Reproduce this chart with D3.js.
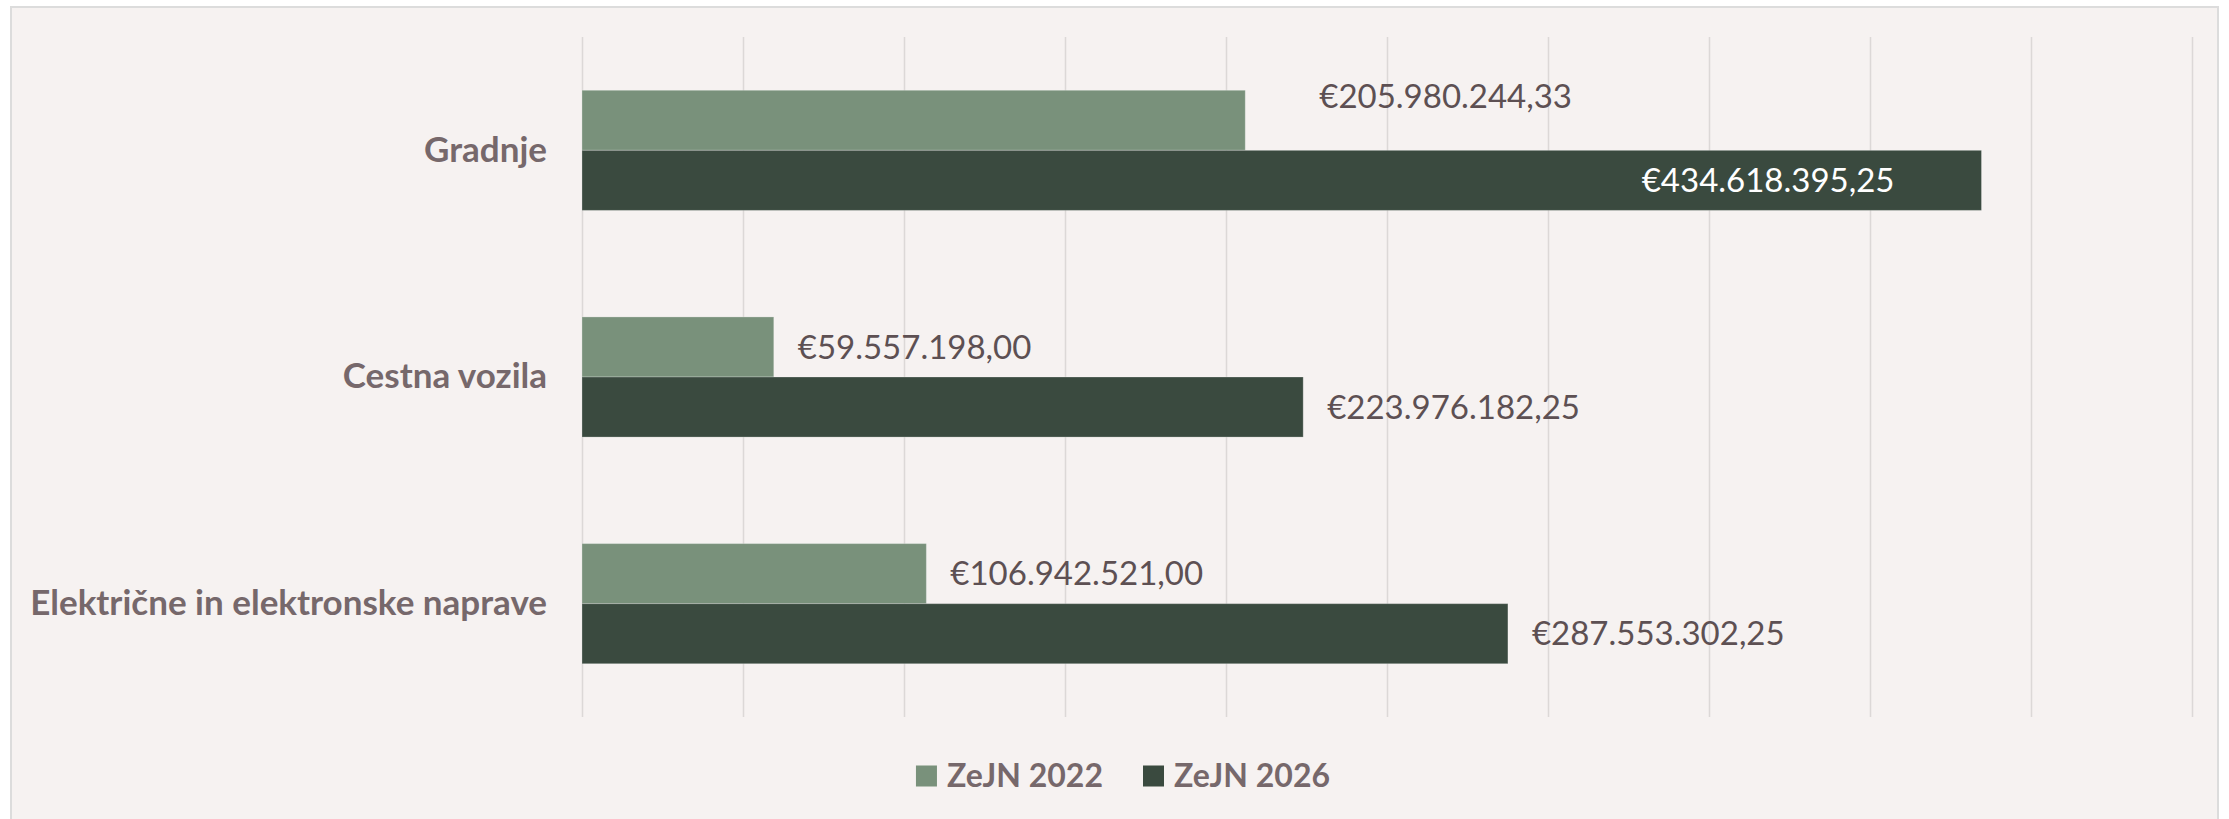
<!DOCTYPE html>
<html>
<head>
<meta charset="utf-8">
<script src="https://cdn.jsdelivr.net/npm/d3@7"></script>
<style>
  body { margin: 0; background: #ffffff; }
  svg { display: block; }
  .grid line { stroke: #dcd8d7; stroke-width: 1.5; }
  .catLabel { font-family: Lato, sans-serif; font-weight: bold; font-size: 35px; fill: #76686b; }
  .valLabel { font-family: Lato, sans-serif; font-size: 33px; fill: #5d5053; }
  .legendText { font-family: Lato, sans-serif; font-weight: bold; font-size: 32px; fill: #76686b; }
</style>
</head>
<body>
<svg id="chart"></svg>
<script>
var categories = ["Gradnje", "Cestna vozila", "Električne in elektronske naprave"];
var series = ["ZeJN 2022", "ZeJN 2026"];
var values2022 = [205980244.33, 59557198.00, 106942521.00];
var values2026 = [434618395.25, 223976182.25, 287553302.25];
var colors = ["#79917b", "#3a4a3f"];

var width = 2229, height = 819;
var plotLeft = 582, plotRight = 2192, plotTop = 37, plotBottom = 717;

var svg = d3.select('#chart').attr("width", width).attr("height", height);

// chart area
svg.append("rect")
   .attr("x", 11).attr("y", 7)
   .attr("width", 2207).attr("height", 830)
   .attr("fill", "#f6f2f1")
   .attr("stroke", "#dcdcdc").attr("stroke-width", 2);

var xScale = d3.scaleLinear().domain([0, 500000000]).range([plotLeft, plotRight]);

var yScale = d3.scaleBand()
               .domain(categories)
               .range([plotTop, plotBottom])
               .paddingInner(0.47)
               .paddingOuter(0.235);

var inner = d3.scaleBand().domain(series).range([0, yScale.bandwidth()]);

var euro = d3.formatLocale({decimal: ",", thousands: ".", grouping: [3], currency: ["€", ""]}).format("$,.2f");

// vertical gridlines
var xAxis = d3.axisBottom(xScale).ticks(10).tickSize(-(plotBottom - plotTop)).tickFormat("");
svg.append("g").attr("class", "grid")
   .attr("transform", "translate(0," + plotBottom + ")")
   .call(xAxis)
   .call(function(g) { g.select(".domain").remove(); });

// category labels
var yAxis = d3.axisLeft(yScale).tickSize(0).tickPadding(35);
svg.append("g")
   .attr("transform", "translate(" + plotLeft + ",0)")
   .call(yAxis)
   .call(function(g) {
     g.select(".domain").remove();
     g.attr("font-family", null).attr("font-size", null);
     g.selectAll("text").attr("class", "catLabel").attr("fill", null);
   });

var rows = [];
categories.forEach(function(c, i) {
  rows.push({cat: c, s: series[0], v: values2022[i], i: i, k: 0});
  rows.push({cat: c, s: series[1], v: values2026[i], i: i, k: 1});
});

svg.selectAll(".bar").data(rows).enter().append("rect")
   .attr("class", "bar")
   .attr("x", xScale(0))
   .attr("y", function(d) { return yScale(d.cat) + inner(d.s); })
   .attr("width", function(d) { return xScale(d.v) - xScale(0); })
   .attr("height", inner.bandwidth())
   .attr("fill", function(d) { return colors[d.k]; })
   .attr("stroke", "rgba(255,255,255,0.25)").attr("stroke-width", 1);

var maxV = d3.max(values2026);

svg.selectAll(".valLabel").data(rows).enter().append("text")
   .attr("class", "valLabel")
   .attr("x", function(d) {
     if (d.v === maxV) return xScale(d.v) - 87;
     if (d.i === 0 && d.k === 0) return xScale(d.v) + 74;
     return xScale(d.v) + 24;
   })
   .attr("y", function(d) {
     var cy = yScale(d.cat) + inner(d.s) + inner.bandwidth() / 2;
     if (d.i === 0 && d.k === 0) cy -= 24;
     return cy;
   })
   .attr("dy", "0.35em")
   .attr("text-anchor", function(d) { return d.v === maxV ? "end" : "start"; })
   .style("fill", function(d) { return d.v === maxV ? "#ffffff" : null; })
   .text(function(d) { return euro(d.v); });

// legend
var legend = svg.append("g");
var lx = 0;
series.forEach(function(s, i) {
  var item = legend.append("g").attr("transform", "translate(" + lx + ",0)");
  item.append("rect").attr("x", 0).attr("y", -10.5).attr("width", 21).attr("height", 21).attr("fill", colors[i]);
  var t = item.append("text").attr("class", "legendText").attr("x", 31).attr("y", 0).attr("dy", "0.35em").text(s);
  lx += 31 + t.node().getComputedTextLength() + 40;
});
var lw = lx - 40;
legend.attr("transform", "translate(" + (1123 - lw / 2) + ",776)");
</script>
</body>
</html>
